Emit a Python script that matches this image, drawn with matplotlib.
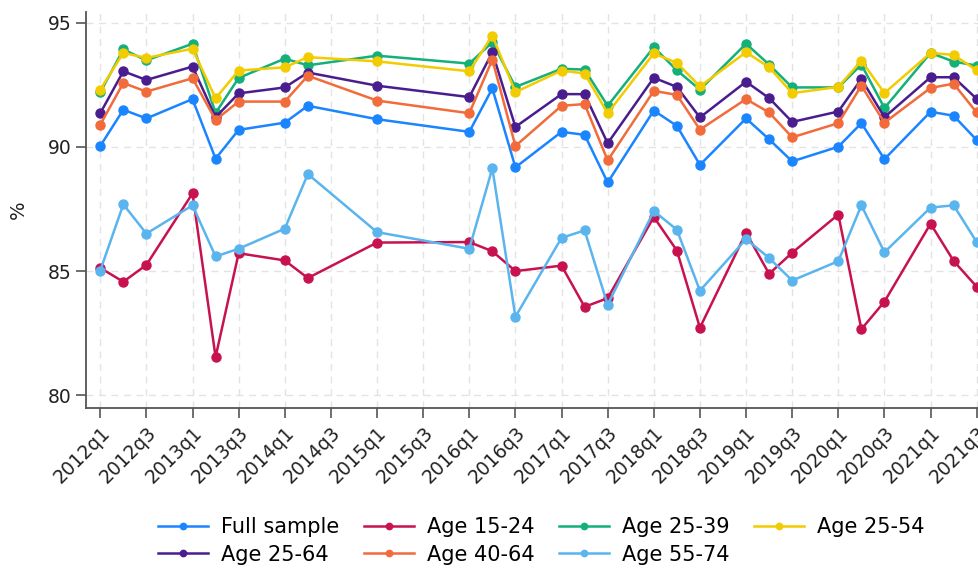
import numpy as np
import matplotlib
matplotlib.use("Agg")
import matplotlib.pyplot as plt

# quarters with observations
quarters = ["2012q1", "2012q2", "2012q3", "2013q1", "2013q2", "2013q3",
            "2014q1", "2014q2", "2015q1", "2016q1", "2016q2", "2016q3",
            "2017q1", "2017q2", "2017q3", "2018q1", "2018q2", "2018q3",
            "2019q1", "2019q2", "2019q3", "2020q1", "2020q2", "2020q3",
            "2021q1", "2021q2", "2021q3"]

full_sample = [90.04, 91.50, 91.15, 91.93, 89.53, 90.69, 90.98, 91.66, 91.12,
               90.61, 92.36, 89.18, 90.61, 90.49, 88.57, 91.47, 90.85, 89.28,
               91.15, 90.31, 89.42, 90.01, 90.96, 89.51, 91.42, 91.26, 90.28]
age_15_24 = [85.13, 84.57, 85.25, 88.13, 81.54, 85.72, 85.43, 84.72, 86.15,
             86.17, 85.80, 85.00, 85.22, 83.56, 83.91, 87.18, 85.83, 82.72,
             86.55, 84.89, 85.74, 87.28, 82.66, 83.77, 86.91, 85.41, 84.37]
age_25_39 = [92.20, 93.93, 93.49, 94.16, 91.37, 92.78, 93.56, 93.29, 93.68,
             93.36, 94.22, 92.42, 93.15, 93.12, 91.66, 94.02, 93.09, 92.31,
             94.16, 93.32, 92.40, 92.40, 93.32, 91.57, 93.79, 93.44, 93.28]
age_25_54 = [92.31, 93.79, 93.59, 93.96, 91.96, 93.08, 93.21, 93.62, 93.45,
             93.05, 94.49, 92.21, 93.08, 92.96, 91.36, 93.77, 93.39, 92.44,
             93.82, 93.21, 92.17, 92.42, 93.48, 92.17, 93.79, 93.71, 93.09]
age_25_64 = [91.36, 93.05, 92.70, 93.24, 91.20, 92.16, 92.40, 93.00, 92.47,
             92.01, 93.82, 90.81, 92.13, 92.13, 90.15, 92.79, 92.42, 91.19,
             92.63, 91.97, 91.01, 91.43, 92.74, 91.20, 92.81, 92.81, 91.94]
age_40_64 = [90.90, 92.58, 92.23, 92.77, 91.09, 91.83, 91.83, 92.87, 91.87,
             91.36, 93.52, 90.04, 91.66, 91.73, 89.46, 92.26, 92.10, 90.70,
             91.93, 91.39, 90.39, 90.96, 92.47, 90.98, 92.38, 92.55, 91.39]
age_55_74 = [85.02, 87.69, 86.51, 87.65, 85.59, 85.90, 86.71, 88.91, 86.57,
             85.90, 89.14, 83.16, 86.34, 86.64, 83.64, 87.42, 86.67, 84.21,
             86.29, 85.53, 84.62, 85.40, 87.65, 85.76, 87.56, 87.65, 86.17]

series = [
    ("Full sample", full_sample, "#1a85ff"),
    ("Age 15-24", age_15_24, "#c8124f"),
    ("Age 25-39", age_25_39, "#14b07a"),
    ("Age 25-54", age_25_54, "#f2cc00"),
    ("Age 25-64", age_25_64, "#4a1d8f"),
    ("Age 40-64", age_40_64, "#f26b3a"),
    ("Age 55-74", age_55_74, "#5ab4ee"),
]


def q_index(label):
    return (int(label[:4]) - 2012) * 4 + int(label[-1]) - 1


x = np.array([q_index(q) for q in quarters])
tick_labels = [f"{y}q{q}" for y in range(2012, 2022) for q in (1, 3)]
tick_pos = [q_index(t) for t in tick_labels]

fig = plt.figure(figsize=(9.79, 5.70), dpi=100)
ax = fig.add_axes([0.0878, 0.284, 0.9122, 0.695])

for name, vals, col in series:
    ax.plot(x, vals, color=col, lw=1.8, marker="o", markersize=6.5, label=name)

ax.set_xlim(-0.62, 38.1)
ax.set_ylim(79.48, 95.44)
ax.set_yticks([80, 85, 90, 95])
ax.set_xticks(tick_pos)
ax.set_xticklabels(tick_labels, rotation=45, ha="right", va="top",
                   rotation_mode="anchor")
ax.tick_params(axis="both", labelsize=13.5, length=7, width=1.2,
               color="#555555", labelcolor="#222222")
ax.set_ylabel("%", fontsize=14, color="#222222", labelpad=14)

ax.grid(True, color="#e3e3e3", lw=1, ls=(0, (5, 4)))
ax.set_axisbelow(True)
for s in ("top", "right"):
    ax.spines[s].set_visible(False)
for s in ("left", "bottom"):
    ax.spines[s].set_color("#555555")
    ax.spines[s].set_linewidth(1.3)

# legend filled row by row, 4 per row
handles, labels = ax.get_legend_handles_labels()
order = [0, 4, 1, 5, 2, 6, 3]
leg = fig.legend([handles[i] for i in order], [labels[i] for i in order],
                 loc="center", ncol=4, bbox_to_anchor=(0.553, 0.051),
                 frameon=False, fontsize=15, handlelength=2.4,
                 handletextpad=0.6, columnspacing=1.2, labelspacing=0.35,
                 markerscale=0.7)

fig.savefig("out.png", dpi=100)
